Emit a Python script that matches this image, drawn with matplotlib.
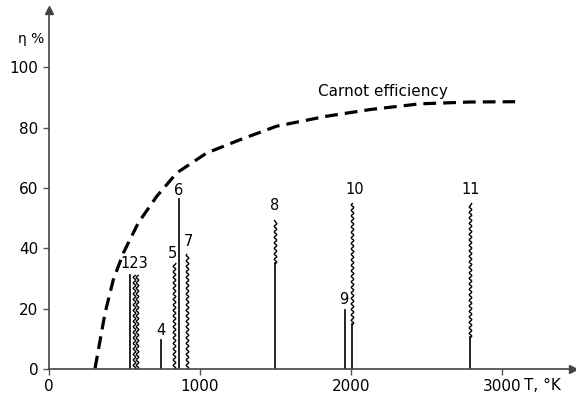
import matplotlib
matplotlib.use("Agg")
import matplotlib.pyplot as plt

# ─── Data ────────────────────────────────────────────────────────────────────

# Carnot efficiency curve
carnot_T = [305, 371, 426, 492, 591, 713, 846, 1044, 1265, 1508,
            1839, 2126, 2457, 2788, 3086]
carnot_eta = [0.2, 18.5, 29.6, 38.4, 48.4, 57.2, 65.0, 71.6, 76.0, 80.5,
              83.8, 86.0, 87.9, 88.5, 88.6]

# Converters: temperature, solid part top, wavy part top (None = no wavy part)
conv_T = [536, 562, 584, 740, 830, 864, 912, 1497, 1962, 2007, 2788]
solid_top = [31.2, 0, 0, 9.6, 0, 56.2, 0, 35.0, 19.5, 15.0, 10.5]
wavy_top = [None, 31.2, 31.2, None, 35.0, None, 38.0, 49.5, None, 55.0, 55.0]

# Labels and their positions
label_text = ["123", "4", "5", "6", "7", "8", "9", "10", "11"]
label_T = [565, 738, 819, 857, 925, 1497, 1950, 2022, 2790]
label_eta = [35, 12.8, 38.4, 59.3, 42.2, 54.2, 23.2, 59.6, 59.6]

x_ticks = [0, 1000, 2000, 3000]
y_ticks = [0, 20, 40, 60, 80, 100]

# ─── Plot ────────────────────────────────────────────────────────────────────

fig = plt.figure(figsize=(5.76, 4.0), dpi=100)
ax = fig.add_axes([0.085, 0.0775, 0.91, 0.8975])

ax.plot(carnot_T, carnot_eta, color="black", linewidth=2.3,
        linestyle=(0, (4.0, 2.2)), dash_capstyle="butt")
ax.text(1780, 92, "Carnot efficiency", fontsize=11, ha="left", va="center")

for T, s, w in zip(conv_T, solid_top, wavy_top):
    if s > 0:
        ax.plot([T, T], [0, s], color="black", linewidth=1.2)
    if w is not None:
        line, = ax.plot([T, T], [s, w], color="black", linewidth=1.0)
        line.set_sketch_params(scale=1.3, length=5.5, randomness=1)

for txt, T, e in zip(label_text, label_T, label_eta):
    ax.text(T, e, txt, fontsize=10.5, ha="center", va="center")

ax.set_xlim(0, 3470)
ax.set_ylim(0, 119)
ax.set_xticks(x_ticks)
ax.set_yticks(y_ticks)
ax.tick_params(labelsize=11, direction="out", length=4, width=1, color="#555555")
for side in ("top", "right"):
    ax.spines[side].set_visible(False)
for side in ("left", "bottom"):
    ax.spines[side].set_linewidth(1.2)
    ax.spines[side].set_color("#444444")

# arrow heads on the axes
ax.plot(1, 0, ">", color="#444444", markersize=6, transform=ax.transAxes, clip_on=False)
ax.plot(0, 1, "^", color="#444444", markersize=6, transform=ax.transAxes, clip_on=False)

ax.text(-0.034, 0.92, "η %", fontsize=10, transform=ax.transAxes,
        ha="center", va="center")
ax.text(3145, -5.6, "T, °K", fontsize=11, ha="left", va="center",
        clip_on=False)

fig.savefig("out.png", dpi=100)
